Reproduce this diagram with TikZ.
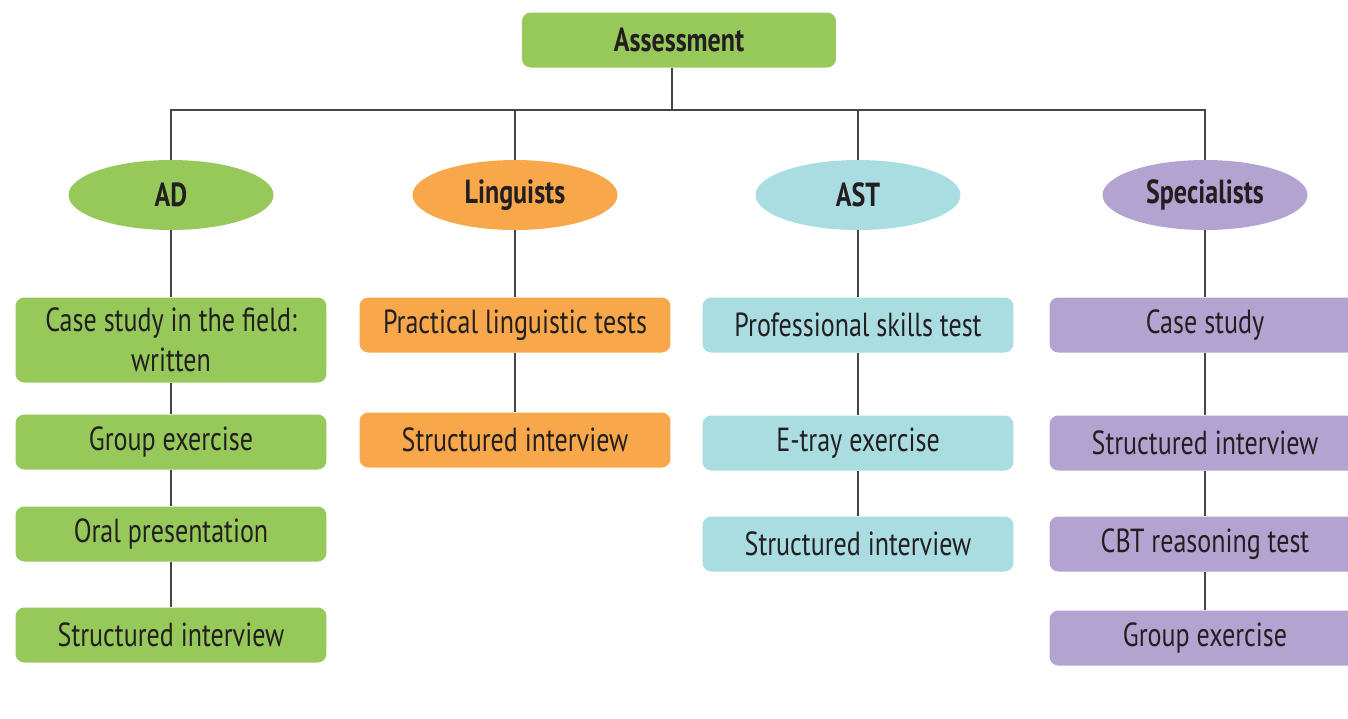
\documentclass[tikz,border=0pt]{standalone}
\usepackage{fontspec}
\setmainfont[FakeStretch=0.78]{PT Sans}
\usetikzlibrary{shapes.geometric}
\definecolor{adgreen}{HTML}{96C95A}
\definecolor{lingorange}{HTML}{F8A84A}
\definecolor{astblue}{HTML}{A9DDE1}
\definecolor{specpurple}{HTML}{B3A3D0}
\definecolor{inktext}{HTML}{231F20}
\definecolor{wire}{HTML}{454545}
\tikzset{
  stagebox/.style={rectangle,rounded corners=5pt,minimum width=6.22cm,minimum height=1.1cm,
    align=center,text=inktext,font=\fontsize{19}{23}\selectfont},
  groupoval/.style={ellipse,minimum width=4.1cm,minimum height=1.4cm,inner sep=0pt,
    text=inktext,font=\fontsize{19}{23}\selectfont\bfseries},
  link/.style={draw=wire,line width=1.4pt}
}

\begin{document}
\begin{tikzpicture}[x=0.02cm,y=-0.02cm]
    \useasboundingbox[fill=white] (0,0) rectangle (1348,718);

    \node [stagebox,fill=adgreen,minimum width=6.28cm,font=\fontsize{19}{23}\selectfont\bfseries] (assess) at (679,40) {Assessment};

    \node [groupoval,fill=adgreen]     (ad)   at (171,195) {AD};
    \node [groupoval,fill=lingorange]  (ling) at (515,195) {Linguists};
    \node [groupoval,fill=astblue]     (ast)  at (858,195) {AST};
    \node [groupoval,fill=specpurple]  (spec) at (1205,195) {Specialists};

    % AD column
    \node [stagebox,fill=adgreen,minimum height=1.7cm] (adcase) at (171,340) {Case study in the field:\\written};
    \node [stagebox,fill=adgreen] (adgroup) at (171,442) {Group exercise};
    \node [stagebox,fill=adgreen] (adoral)  at (171,534) {Oral presentation};
    \node [stagebox,fill=adgreen] (adint)   at (171,635) {Structured interview};

    % Linguists column
    \node [stagebox,fill=lingorange] (lingtest) at (515,325) {Practical linguistic tests};
    \node [stagebox,fill=lingorange] (lingint)  at (515,440) {Structured interview};

    % AST column
    \node [stagebox,fill=astblue] (astskill) at (858,325) {Professional skills test};
    \node [stagebox,fill=astblue] (asttray)  at (858,443) {E-tray exercise};
    \node [stagebox,fill=astblue] (astint)   at (858,544) {Structured interview};

    % Specialists column
    \node [stagebox,fill=specpurple] (speccase)  at (1205,325) {Case study};
    \node [stagebox,fill=specpurple] (specint)   at (1205,443) {Structured interview};
    \node [stagebox,fill=specpurple] (speccbt)   at (1205,544) {CBT reasoning test};
    \node [stagebox,fill=specpurple] (specgroup) at (1205,638) {Group exercise};

    \coordinate (bus) at (0,110);
    \draw [link] ([xshift=-0.14cm]assess.south) -- ([xshift=-0.14cm]assess.south |- bus);
    \draw [link] (ad.north) -- (ad.north |- bus) -| (spec.north);
    \draw [link] (ling.north) -- (ling.north |- bus);
    \draw [link] (ast.north) -- (ast.north |- bus);

    \draw [link] (ad.south) -- (adcase.north);
    \draw [link] (adcase.south) -- (adgroup.north);
    \draw [link] (adgroup.south) -- (adoral.north);
    \draw [link] (adoral.south) -- (adint.north);

    \draw [link] (ling.south) -- (lingtest.north);
    \draw [link] (lingtest.south) -- (lingint.north);

    \draw [link] (ast.south) -- (astskill.north);
    \draw [link] (astskill.south) -- (asttray.north);
    \draw [link] (asttray.south) -- (astint.north);

    \draw [link] (spec.south) -- (speccase.north);
    \draw [link] (speccase.south) -- (specint.north);
    \draw [link] (specint.south) -- (speccbt.north);
    \draw [link] (speccbt.south) -- (specgroup.north);
\end{tikzpicture}
\end{document}
